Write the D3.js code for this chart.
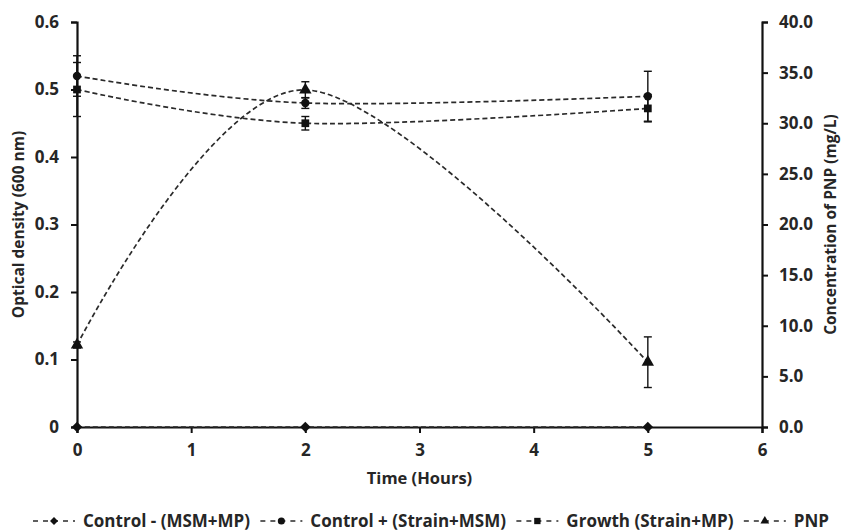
<!DOCTYPE html>
<html>
<head>
<meta charset="utf-8">
<script src="https://cdnjs.cloudflare.com/ajax/libs/d3/7.8.5/d3.min.js"></script>
<style>
body { margin: 0; background: #fff; }
text { font-family: "Open Sans", "Noto Sans", sans-serif; font-weight: bold; fill: #262626; }
</style>
</head>
<body>
<div id="chart-area"></div>
<script>
// --> DATA
var hours = [0, 2, 5];
var controlMinus = [0, 0, 0];
var controlPlus = [0.52, 0.48, 0.49];
var controlPlusErr = [0.03, 0.008, 0.037];
var growth = [0.50, 0.45, 0.472];
var growthErr = [0.04, 0.01, 0.02];
var pnp = [8.1, 33.3, 6.4];
var pnpErr = [0.3, 0.8, 2.5];
var xTicks = [0, 1, 2, 3, 4, 5, 6];
var odTicks = [0, 0.1, 0.2, 0.3, 0.4, 0.5, 0.6];
var pnpTicks = [0, 5, 10, 15, 20, 25, 30, 35, 40];
var legendLabels = ["Control - (MSM+MP)", "Control + (Strain+MSM)", "Growth (Strain+MP)", "PNP"];

// --> SVG
var width = 844;
var height = 531;
var svg = d3.select("#chart-area").append("svg")
  .attr("width", width)
  .attr("height", height);

var ink = "#111";
var lineInk = "#2a2a2a";

// Scales
var x = d3.scaleLinear().domain([0, 6]).range([77, 762]);
var yOD = d3.scaleLinear().domain([0, 0.6]).range([427, 22]);
var yPNP = d3.scaleLinear().domain([0, 40]).range([427, 22]);

// Axes
var xAxis = svg.append("g")
  .attr("transform", "translate(0," + yOD(0) + ")")
  .call(d3.axisBottom(x).tickValues(xTicks).tickSize(6).tickPadding(11).tickFormat(d3.format("d")));
var leftAxis = svg.append("g")
  .attr("transform", "translate(" + x(0) + ",0)")
  .call(d3.axisLeft(yOD).tickValues(odTicks).tickSize(6).tickPadding(12)
    .tickFormat(function(d){ return d === 0 ? "0" : d3.format(".1f")(d); }));
var rightAxis = svg.append("g")
  .attr("transform", "translate(" + x(6) + ",0)")
  .call(d3.axisRight(yPNP).tickValues(pnpTicks).tickSize(6).tickPadding(11).tickFormat(d3.format(".1f")));

[xAxis, leftAxis, rightAxis].forEach(function(g){
  g.selectAll("path.domain").attr("stroke", ink).attr("stroke-width", 2.2);
  g.selectAll(".tick line").attr("stroke", ink).attr("stroke-width", 2);
  g.selectAll(".tick text").style("font-size", "17px").style("font-family", "'Open Sans', sans-serif").style("font-weight", "bold").attr("fill", "#262626");
});

// Titles
svg.append("text")
  .attr("x", x(3)).attr("y", 484)
  .attr("text-anchor", "middle")
  .style("font-size", "16.5px")
  .text("Time (Hours)");
svg.append("text")
  .attr("transform", "translate(24," + yOD(0.3) + ") rotate(-90)")
  .attr("text-anchor", "middle")
  .style("font-size", "15.5px")
  .text("Optical density (600 nm)");
svg.append("text")
  .attr("transform", "translate(836," + yOD(0.3) + ") rotate(-90)")
  .attr("text-anchor", "middle")
  .style("font-size", "15.5px")
  .text("Concentration of PNP (mg/L)");

// Symbols
var symbolTypes = {
  diamond: d3.symbol().type(d3.symbolDiamond2).size(70),
  circle: d3.symbol().type(d3.symbolCircle).size(55),
  square: d3.symbol().type(d3.symbolSquare).size(60),
  triangle: d3.symbol().type(d3.symbolTriangle2).size(110)
};

// Series
var series = [
  { vals: controlMinus, err: null, y: yOD, sym: "diamond" },
  { vals: controlPlus, err: controlPlusErr, y: yOD, sym: "circle" },
  { vals: growth, err: growthErr, y: yOD, sym: "square" },
  { vals: pnp, err: pnpErr, y: yPNP, sym: "triangle" }
];

var line = d3.line().curve(d3.curveCardinal.tension(0));

series.forEach(function(s){
  var pts = hours.map(function(h, i){ return [x(h), s.y(s.vals[i])]; });
  svg.append("path")
    .attr("d", line(pts))
    .attr("fill", "none")
    .attr("stroke", lineInk)
    .attr("stroke-width", 1.7)
    .attr("stroke-dasharray", "5,3");
});

// Error bars
series.forEach(function(s){
  if (!s.err) return;
  var g = svg.append("g");
  hours.forEach(function(h, i){
    var cx = x(h);
    var lo = s.y(s.vals[i] - s.err[i]);
    var hi = s.y(s.vals[i] + s.err[i]);
    g.append("line").attr("x1", cx).attr("x2", cx).attr("y1", lo).attr("y2", hi)
      .attr("stroke", ink).attr("stroke-width", 1.4);
    [lo, hi].forEach(function(yy){
      g.append("line").attr("x1", cx - 4).attr("x2", cx + 4).attr("y1", yy).attr("y2", yy)
        .attr("stroke", ink).attr("stroke-width", 1.4);
    });
  });
});

// Markers
series.forEach(function(s){
  svg.append("g").selectAll("path")
    .data(s.vals)
    .enter()
    .append("path")
    .attr("d", symbolTypes[s.sym])
    .attr("transform", function(d, i){ return "translate(" + x(hours[i]) + "," + s.y(d) + ")"; })
    .attr("fill", ink);
});

// Legend
var legend = svg.append("g").attr("class", "legend");
var items = legend.selectAll("g.item")
  .data(legendLabels)
  .enter()
  .append("g")
  .attr("class", "item");

items.append("line")
  .attr("x1", 0).attr("x2", 42).attr("y1", 0).attr("y2", 0)
  .attr("stroke", lineInk).attr("stroke-width", 1.7).attr("stroke-dasharray", "5,5");
items.append("path")
  .attr("d", function(d, i){ return d3.symbol().type(
      [d3.symbolDiamond2, d3.symbolCircle, d3.symbolSquare, d3.symbolTriangle2][i]).size(i === 3 ? 55 : 40)(); })
  .attr("transform", "translate(21,0)")
  .attr("fill", ink);
items.append("text")
  .attr("x", 50).attr("y", 6)
  .style("font-size", "17px")
  .text(function(d){ return d; });

var widths = [];
items.each(function(){ widths.push(this.getBBox().width); });
var total = d3.sum(widths);
var gap = (829 - 33 - total) / (widths.length - 1);
var cursor = 33;
items.attr("transform", function(d, i){
  var t = "translate(" + cursor + ",521)";
  cursor += widths[i] + gap;
  return t;
});
</script>
</body>
</html>
